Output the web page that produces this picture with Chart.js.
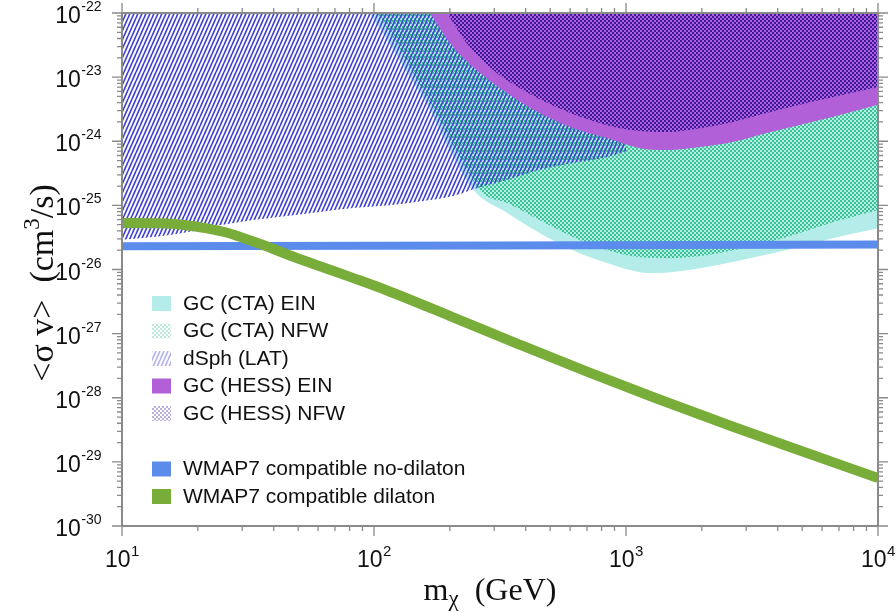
<!DOCTYPE html>
<html>
<head>
<meta charset="utf-8">
<script src="https://cdn.jsdelivr.net/npm/chart.js@4.4.1/dist/chart.umd.min.js"></script>
<style>
  html, body { margin: 0; padding: 0; background: #fff; }
  #wrap { width: 896px; height: 613px; position: relative; }
</style>
</head>
<body>
<div id="wrap"><canvas id="chart"></canvas></div>
<script>
// m_chi in GeV, <sigma v> in cm^3/s
const ctaEinMass = [96, 115, 139, 167, 200, 248, 338, 454, 615, 842, 1130, 1300, 1970, 3100, 4890, 6650, 10000];
const ctaEinSv = [1e-22, 3.4e-23, 1.0e-23, 3.1e-24, 7.3e-25, 1.73e-25, 7.6e-26, 3.7e-26, 2.0e-26, 1.26e-26, 9.1e-27, 8.8e-27, 1.05e-26, 1.5e-26, 2.24e-26, 3.1e-26, 4.4e-26];

const ctaNfwMass = [103, 124, 148, 178, 213, 271, 338, 454, 615, 842, 1130, 1490, 1970, 2660, 3610, 4890, 6650, 10000];
const ctaNfwSv = [1e-22, 3.2e-23, 9e-24, 2.6e-24, 6.8e-25, 1.55e-25, 1.09e-25, 5.9e-26, 3.2e-26, 2.0e-26, 1.56e-26, 1.5e-26, 1.62e-26, 2.0e-26, 2.6e-26, 3.7e-26, 5.5e-26, 8.5e-26];

const dsphMass = [10, 13.3, 18.1, 24.5, 33.1, 45.2, 61, 82.4, 112, 152, 206, 250, 338, 454, 615, 842, 1000];
const dsphSv = [2.9e-26, 3.2e-26, 3.8e-26, 4.9e-26, 5.9e-26, 6.8e-26, 7.9e-26, 9.1e-26, 1.0e-25, 1.15e-25, 1.4e-25, 1.8e-25, 2.5e-25, 3.6e-25, 4.6e-25, 5.7e-25, 7e-25];

const hessEinMass = [167, 200, 247, 338, 454, 615, 842, 1130, 1450, 1970, 2660, 3610, 4890, 6650, 10000];
const hessEinSv = [1e-22, 3.4e-23, 1.44e-23, 5.6e-24, 2.75e-24, 1.6e-24, 1.12e-24, 7.8e-25, 7.3e-25, 8.1e-25, 9.8e-25, 1.35e-24, 1.8e-24, 2.4e-24, 3.7e-24];

const hessNfwMass = [195, 233, 287, 390, 530, 720, 905, 1130, 1450, 1970, 2660, 3610, 4890, 6650, 10000];
const hessNfwSv = [1e-22, 3.4e-23, 1.44e-23, 6.3e-24, 3.4e-24, 2.14e-24, 1.66e-24, 1.44e-24, 1.39e-24, 1.6e-24, 2.0e-24, 2.75e-24, 3.7e-24, 4.9e-24, 7.0e-24];

const noDilatonMass = [10, 10000];
const noDilatonSv = [2.3e-26, 2.45e-26];

const dilatonMass = [10, 14, 18, 22, 26.8, 31, 35.9, 48.5, 65.5, 82.4, 112, 206, 380, 700, 1300, 2660, 4900, 10000];
const dilatonSv = [5.3e-26, 5.25e-26, 4.9e-26, 4.35e-26, 3.65e-26, 3.0e-26, 2.45e-26, 1.55e-26, 1.02e-26, 7.4e-27, 4.75e-27, 1.8e-27, 6.7e-28, 2.55e-28, 1.0e-28, 3.53e-29, 1.5e-29, 5.6e-30];

const xMajor = [10, 100, 1000, 10000];
const xExp = ['1', '2', '3', '4'];
const yMajor = [1e-30, 1e-29, 1e-28, 1e-27, 1e-26, 1e-25, 1e-24, 1e-23, 1e-22];
const yExp = ['-30', '-29', '-28', '-27', '-26', '-25', '-24', '-23', '-22'];

const sans = '"Liberation Sans", Arial, Helvetica, sans-serif';
const serif = '"Liberation Serif", "Times New Roman", serif';

function makePattern(w, h, draw) {
  const c = document.createElement('canvas');
  c.width = w;
  c.height = h;
  const g = c.getContext('2d');
  draw(g, w, h);
  return g.createPattern(c, 'repeat');
}

const hatch = makePattern(4, 9, (g, w, h) => {
  g.strokeStyle = '#4242d2';
  g.lineWidth = 1.7;
  g.beginPath();
  for (const dx of [-w, 0, w]) {
    g.moveTo(dx, h);
    g.lineTo(dx + w, 0);
  }
  g.stroke();
});

function checker(color) {
  return makePattern(4, 4, g => {
    g.fillStyle = color;
    g.fillRect(0, 0, 2, 2);
    g.fillRect(2, 2, 2, 2);
  });
}
const greenChecker = checker('#3cc490');
const indigoChecker = checker('#3a1a9e');

function series(mass, sv) {
  return mass.map((m, i) => ({ x: m, y: sv[i] }));
}

function region(label, mass, sv, fill, order, swatchAlpha = 1) {
  return {
    label,
    data: series(mass, sv),
    backgroundColor: fill,
    borderColor: 'transparent',
    borderWidth: 0,
    fill: 'end',
    cubicInterpolationMode: 'monotone',
    pointRadius: 0,
    order,
    swatchAlpha
  };
}

function curve(label, mass, sv, color, width, order) {
  return {
    label,
    data: series(mass, sv),
    borderColor: color,
    backgroundColor: color,
    borderWidth: width,
    fill: false,
    cubicInterpolationMode: 'monotone',
    borderCapStyle: 'butt',
    pointRadius: 0,
    order,
    swatchAlpha: 1
  };
}

const datasets = [
  region('GC (CTA) EIN', ctaEinMass, ctaEinSv, '#b4ecea', 7),
  region('GC (CTA) NFW', ctaNfwMass, ctaNfwSv, greenChecker, 6, 0.35),
  region('dSph (LAT)', dsphMass, dsphSv, hatch, 5, 0.4),
  region('GC (HESS) EIN', hessEinMass, hessEinSv, '#b260d8', 4),
  region('GC (HESS) NFW', hessNfwMass, hessNfwSv, indigoChecker, 3, 0.35),
  curve('WMAP7 compatible no-dilaton', noDilatonMass, noDilatonSv, '#5b8ceb', 8, 2),
  curve('WMAP7 compatible dilaton', dilatonMass, dilatonSv, '#79ad3a', 10, 1)
];

function drawPow(ctx, exp, x, y, align, bigSize, smallSize, rise) {
  ctx.font = `${bigSize}px ${sans}`;
  const bw = ctx.measureText('10').width;
  ctx.font = `${smallSize}px ${sans}`;
  const ew = ctx.measureText(exp).width;
  const left = align === 'right' ? x - bw - ew : x - (bw + ew) / 2;
  ctx.textAlign = 'left';
  ctx.textBaseline = 'alphabetic';
  ctx.font = `${bigSize}px ${sans}`;
  ctx.fillText('10', left, y);
  ctx.font = `${smallSize}px ${sans}`;
  ctx.fillText(exp, left + bw + 0.5, y - rise);
}

const framePlugin = {
  id: 'frame',
  afterDraw(chart) {
    const { ctx, chartArea: a } = chart;
    const xs = chart.scales.x;
    const ys = chart.scales.y;
    ctx.save();
    ctx.strokeStyle = '#8a8a8a';
    ctx.lineWidth = 2;
    ctx.strokeRect(a.left, a.top, a.right - a.left, a.bottom - a.top);

    ctx.lineWidth = 1.3;
    ctx.beginPath();
    xMajor.forEach((v, i) => {
      const px = xs.getPixelForValue(v);
      ctx.moveTo(px, a.bottom); ctx.lineTo(px, a.bottom + 10);
      ctx.moveTo(px, a.top); ctx.lineTo(px, a.top - 10);
      if (i < xMajor.length - 1) {
        for (let k = 2; k <= 9; k++) {
          const p = xs.getPixelForValue(v * k);
          ctx.moveTo(p, a.bottom); ctx.lineTo(p, a.bottom + 5);
          ctx.moveTo(p, a.top); ctx.lineTo(p, a.top - 5);
        }
      }
    });
    yMajor.forEach((v, i) => {
      const py = ys.getPixelForValue(v);
      ctx.moveTo(a.left, py); ctx.lineTo(a.left - 10, py);
      ctx.moveTo(a.right, py); ctx.lineTo(a.right + 10, py);
      if (i < yMajor.length - 1) {
        for (let k = 2; k <= 9; k++) {
          const p = ys.getPixelForValue(v * k);
          ctx.moveTo(a.left, p); ctx.lineTo(a.left - 5, p);
          ctx.moveTo(a.right, p); ctx.lineTo(a.right + 5, p);
        }
      }
    });
    ctx.stroke();

    ctx.fillStyle = '#111';
    yMajor.forEach((v, i) => {
      const py = ys.getPixelForValue(v);
      drawPow(ctx, yExp[i], a.left - 21, py + 10, 'right', 23, 14, 12);
    });
    xMajor.forEach((v, i) => {
      const px = xs.getPixelForValue(v);
      drawPow(ctx, xExp[i], px, a.bottom + 41, 'center', 23, 15, 11);
    });

    // x title: m_chi (GeV)
    ctx.textBaseline = 'alphabetic';
    ctx.textAlign = 'left';
    ctx.font = `32px ${serif}`;
    const mW = ctx.measureText('m').width;
    const restX = '  (GeV)';
    const rW = ctx.measureText(restX).width;
    ctx.font = `23px ${serif}`;
    const chiW = ctx.measureText('\u03c7').width;
    const x0 = 490 - (mW + chiW + rW) / 2;
    ctx.font = `32px ${serif}`;
    ctx.fillText('m', x0, 600);
    ctx.font = `23px ${serif}`;
    ctx.fillText('\u03c7', x0 + mW, 606);
    ctx.font = `32px ${serif}`;
    ctx.fillText(restX, x0 + mW + chiW, 600);

    // y title: <sigma v> (cm^3/s)
    ctx.translate(53, 283);
    ctx.rotate(-Math.PI / 2);
    const partA = '<\u03c3 v>  (cm';
    const partB = '/s)';
    ctx.font = `34px ${serif}`;
    const aW = ctx.measureText(partA).width;
    const bW = ctx.measureText(partB).width;
    ctx.font = `23px ${serif}`;
    const sW = ctx.measureText('3').width;
    const y0 = -(aW + sW + bW) / 2;
    ctx.font = `34px ${serif}`;
    ctx.fillText(partA, y0, 0);
    ctx.font = `23px ${serif}`;
    ctx.fillText('3', y0 + aW, -14);
    ctx.font = `34px ${serif}`;
    ctx.fillText(partB, y0 + aW + sW, 0);
    ctx.restore();
  }
};

const legendPlugin = {
  id: 'insideLegend',
  afterDatasetsDraw(chart) {
    const { ctx, chartArea: a } = chart;
    const left = a.left + 30;
    let y = 303;
    ctx.save();
    chart.data.datasets.forEach((ds, i) => {
      if (i === 5) y += 28;
      ctx.save();
      ctx.globalAlpha = ds.swatchAlpha;
      ctx.fillStyle = ds.backgroundColor;
      ctx.fillRect(left, y - 7, 19, 15);
      ctx.restore();
      ctx.fillStyle = '#111';
      ctx.font = `21px ${sans}`;
      ctx.textAlign = 'left';
      ctx.textBaseline = 'middle';
      ctx.fillText(ds.label, left + 31, y + 1);
      y += 27.5;
    });
    ctx.restore();
  }
};

new Chart(document.getElementById('chart'), {
  type: 'line',
  data: { datasets },
  options: {
    responsive: true,
    maintainAspectRatio: false,
    animation: false,
    devicePixelRatio: 1,
    layout: { padding: { top: 13, right: 18, left: 122, bottom: 87 } },
    plugins: {
      legend: { display: false },
      tooltip: { enabled: false },
      filler: { propagate: false }
    },
    scales: {
      x: { type: 'logarithmic', min: 10, max: 10000, display: false },
      y: { type: 'logarithmic', min: 1e-30, max: 1e-22, display: false }
    }
  },
  plugins: [framePlugin, legendPlugin]
});
</script>
</body>
</html>
